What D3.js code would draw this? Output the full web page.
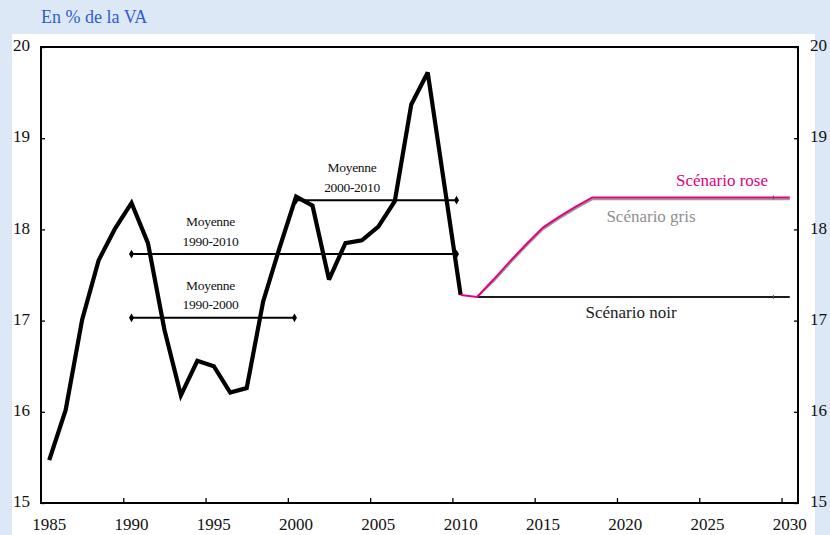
<!DOCTYPE html>
<html><head><meta charset="utf-8">
<script src="https://cdn.jsdelivr.net/npm/d3@7"></script>
<style>
html,body{margin:0;padding:0;background:#dde8f6;}
svg{display:block;}
</style></head><body>
<svg id="c" width="830" height="535"></svg>
<script>
// ---- data ----
const histYears = d3.range(1985, 2011);
const histValues = [15.47, 16.02, 17.01, 17.66, 18.01, 18.29, 17.85, 16.90, 16.18, 16.56,
  16.50, 16.21, 16.26, 17.21, 17.80, 18.36, 18.26, 17.45, 17.85, 17.88,
  18.03, 18.31, 19.37, 19.72, 18.50, 17.28];
const roseYears = d3.range(2010, 2031);
const roseValues = [17.28, 17.26, 17.45, 17.65, 17.84, 18.02, 18.14, 18.25, 18.35, 18.35,
  18.35, 18.35, 18.35, 18.35, 18.35, 18.35, 18.35, 18.35, 18.35, 18.35, 18.35];
const grisYears = d3.range(2011, 2031);
const grisValues = [17.26, 17.43, 17.63, 17.82, 18.00, 18.12, 18.23, 18.33, 18.33,
  18.33, 18.33, 18.33, 18.33, 18.33, 18.33, 18.33, 18.33, 18.33, 18.33, 18.33];
const noirYears = d3.range(2011, 2031);
const noirValues = noirYears.map(() => 17.26);
const averages = [
  {label: ["Moyenne", "2000-2010"], from: 2000, to: 2009.75, value: 18.32, labelAt: 2003.4},
  {label: ["Moyenne", "1990-2010"], from: 1990, to: 2009.75, value: 17.73, labelAt: 1994.8},
  {label: ["Moyenne", "1990-2000"], from: 1990, to: 1999.9, value: 17.03, labelAt: 1994.8}
];
const xTickYears = d3.range(1985, 2031, 5);
const yTicks = [15, 16, 17, 18, 19, 20];
const title = "En % de la VA";
const scenarioLabels = [
  {text: "Scénario rose", color: "#e5007e"},
  {text: "Scénario gris", color: "#8f8f8f"},
  {text: "Scénario noir", color: "#1a1a1a"}
];

// ---- layout ----
const FONT = '"Liberation Serif"';
const svg = d3.select("#c");
const L = 41, R = 798, T = 47, B = 503;
svg.append("rect").attr("x", 12).attr("y", 34).attr("width", 803).attr("height", 501).attr("fill", "#fff");
svg.append("text").attr("x", 41).attr("y", 23).attr("fill", "#2d5fcc")
  .style("font-family", FONT).attr("font-size", 18).text(title);

const allYears = d3.range(1985, 2031);
const xb = d3.scaleBand().domain(allYears).range([L, R]).padding(0);
const xEdge = d3.scaleLinear().domain([1985, 2031]).range([L, R]);
const xc = d3.scaleLinear().domain([1985, 2030]).range([xb(1985) + xb.bandwidth() / 2, xb(2030) + xb.bandwidth() / 2]);
const y = d3.scaleLinear().domain([15, 20]).range([B, T]);

// frame
svg.append("rect").attr("x", L).attr("y", T).attr("width", R - L).attr("height", B - T)
  .attr("fill", "none").attr("stroke", "#000").attr("stroke-width", 2);

// axes
const gl = svg.append("g").attr("transform", `translate(${L},0)`)
  .call(d3.axisLeft(y).tickValues(yTicks).tickSize(-4).tickSizeOuter(0).tickPadding(11).tickFormat(d3.format("d")));
const gr = svg.append("g").attr("transform", `translate(${R},0)`)
  .call(d3.axisRight(y).tickValues(yTicks).tickSize(-4).tickSizeOuter(0).tickPadding(12).tickFormat(d3.format("d")));
const gbt = svg.append("g").attr("transform", `translate(0,${B})`)
  .call(d3.axisTop(xEdge).tickValues(xTickYears.filter(v => v > 1985)).tickSize(5).tickSizeOuter(0).tickFormat(""));
const gbl = svg.append("g").attr("transform", `translate(0,${B})`)
  .call(d3.axisBottom(xb).tickValues(xTickYears).tickSize(0).tickSizeOuter(0));
[gl, gr, gbt, gbl].forEach(g => {
  g.attr("font-family", null).attr("font-size", null);
  g.select(".domain").remove();
  g.selectAll(".tick line").attr("stroke", "#000").attr("stroke-width", 1.3);
  g.selectAll("text").style("font-family", FONT).attr("font-size", 17).attr("fill", "#111");
});
gl.selectAll("text").attr("dy", "0.22em");
gr.selectAll("text").attr("dy", "0.22em");
gbl.selectAll("text").attr("y", 27).attr("dy", 0);

// average lines
const ag = svg.append("g");
averages.forEach(a => {
  ag.append("line").attr("x1", xc(a.from)).attr("x2", xc(a.to))
    .attr("y1", y(a.value)).attr("y2", y(a.value))
    .attr("stroke", "#000").attr("stroke-width", 2);
  [a.from, a.to].forEach(v => {
    ag.append("path").attr("d", d3.symbol(d3.symbolDiamond, 22)())
      .attr("transform", `translate(${xc(v)},${y(a.value)})`).attr("fill", "#000");
  });
  [0, 1].forEach(k => {
    ag.append("text").attr("text-anchor", "middle")
      .style("font-family", FONT).attr("font-size", 13.5)
      .attr("letter-spacing", -0.3).attr("fill", "#111")
      .attr("x", xc(a.labelAt)).attr("y", y(a.value) - (k === 0 ? 28 : 8.5)).text(a.label[k]);
  });
});

const line = d3.line().x(d => xc(d[0])).y(d => y(d[1]));
const zip = (a, b) => a.map((v, i) => [v, b[i]]);

// scenarios
svg.append("path").datum(zip(noirYears, noirValues)).attr("d", line)
  .attr("fill", "none").attr("stroke", "#1a1a1a").attr("stroke-width", 2);
svg.append("path").datum(zip(grisYears, grisValues)).attr("d", line)
  .attr("fill", "none").attr("stroke", "#9a9a9a").attr("stroke-width", 2);
// historical
svg.append("path").datum(zip(histYears, histValues)).attr("d", line)
  .attr("fill", "none").attr("stroke", "#000").attr("stroke-width", 4.2).attr("stroke-linejoin", "miter").attr("stroke-miterlimit", 3);
svg.append("path").datum(zip(roseYears, roseValues)).attr("d", line)
  .attr("fill", "none").attr("stroke", "#e5007e").attr("stroke-width", 2);

// small markers at 2029
[[noirYears, noirValues], [roseYears, roseValues]].forEach(([ys, vs]) => {
  const i = ys.indexOf(2029);
  svg.append("line").attr("x1", xc(2029)).attr("x2", xc(2029))
    .attr("y1", y(vs[i]) - 2).attr("y2", y(vs[i]) + 2).attr("stroke", "#555").attr("stroke-width", 1);
});

// scenario labels
const lbl = (x, yy, anchor, s) => svg.append("text").attr("x", x).attr("y", yy)
  .attr("text-anchor", anchor).style("font-family", FONT).attr("font-size", 17)
  .attr("fill", s.color).text(s.text);
lbl(768, y(roseValues[roseValues.length - 1]) - 11, "end", scenarioLabels[0]);
lbl(651, y(grisValues[grisValues.length - 1]) + 23, "middle", scenarioLabels[1]);
lbl(631, y(noirValues[noirValues.length - 1]) + 21, "middle", scenarioLabels[2]);
</script>
</body></html>
